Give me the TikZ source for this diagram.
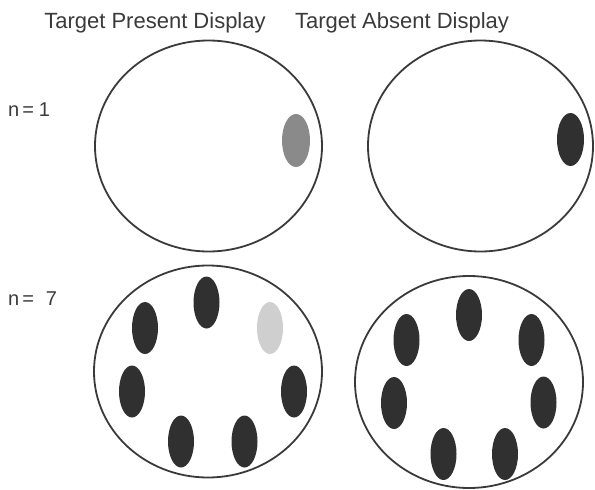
\documentclass[tikz,border=0pt]{standalone}
\usepackage{fontspec}
\setmainfont{Liberation Sans}
\usetikzlibrary{shapes.geometric}
\definecolor{ink}{HTML}{3A3A3A}
\definecolor{dark}{HTML}{303030}
\definecolor{midgray}{HTML}{8A8A8A}
\definecolor{lightgray}{HTML}{CFCFCF}
\tikzset{
  display/.style={ellipse, draw=ink, line width=1.8pt, inner sep=0pt, minimum width=227pt, minimum height=211pt},
  item/.style={ellipse, inner sep=0pt, minimum width=26pt, minimum height=52pt},
  distractor/.style={item, fill=dark},
  heading/.style={font=\fontsize{22}{24}\selectfont, text=ink, anchor=base, inner sep=0pt},
  rowlabel/.style={font=\fontsize{20}{22}\selectfont, text=ink, anchor=base west, inner sep=0pt}
}
\begin{document}
\begin{tikzpicture}[x=1pt,y=-1pt]
\useasboundingbox (0,0) rectangle (595,490);
% headings
\node[heading] (hp) at (155,28) {Target Present Display};
\node[heading] (ha) at (402,28) {Target Absent Display};
\node[rowlabel] (n1) at (8,116) {n\hspace{3pt}=\hspace{5pt}1};
\node[rowlabel] (n7) at (8,305) {n\hspace{3pt}=\hspace{12pt}7};
% displays
\node[display] (d11) at (208.5,146) {};
\node[display, minimum width=225pt] (d12) at (480.5,146) {};
\node[display, minimum width=228pt, minimum height=212pt] (d21) at (208,371.5) {};
\node[display, minimum width=228pt, minimum height=212pt] (d22) at (469,382) {};
% n = 1
\node[item, fill=midgray, minimum width=28pt, minimum height=53pt] (t1) at (296,140.5) {};
\node[distractor, minimum width=27pt, minimum height=53pt] (a1) at (570.5,139.5) {};
% n = 7, target present
\node[distractor] (p1) at (206.5,302.5) {};
\node[distractor] (p2) at (145,328) {};
\node[distractor] (p3) at (132,391.5) {};
\node[distractor] (p4) at (181,441.5) {};
\node[distractor] (p5) at (244.5,441.5) {};
\node[distractor] (p6) at (294,391.5) {};
\node[item, fill=lightgray] (t7) at (270,328) {};
% n = 7, target absent
\node[distractor] (b1) at (469,315) {};
\node[distractor] (b2) at (406.5,340) {};
\node[distractor] (b3) at (531.5,340) {};
\node[distractor] (b4) at (394,403) {};
\node[distractor] (b5) at (543.5,402.5) {};
\node[distractor] (b6) at (443.5,454) {};
\node[distractor] (b7) at (505,454) {};
\end{tikzpicture}
\end{document}
